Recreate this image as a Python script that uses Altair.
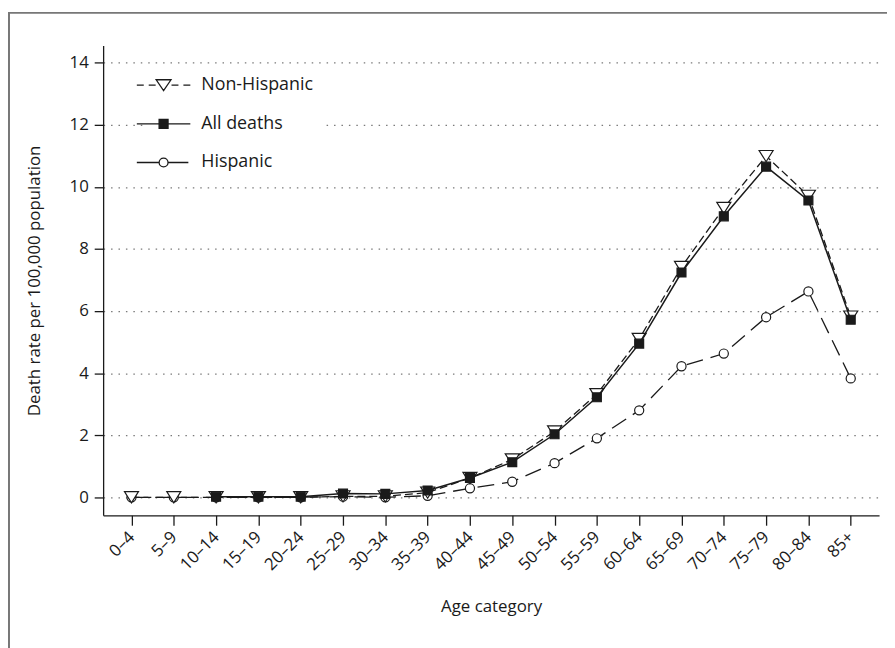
import altair as alt
import pandas as pd

ages = ["0–4", "5–9", "10–14", "15–19", "20–24", "25–29", "30–34", "35–39", "40–44",
        "45–49", "50–54", "55–59", "60–64", "65–69", "70–74", "75–79", "80–84", "85+"]
non_hispanic = [0.0, 0.0, 0.0, 0.0, 0.0, 0.03, 0.03, 0.15, 0.62, 1.22, 2.12, 3.32,
                5.10, 7.42, 9.32, 10.99, 9.71, 5.82]
all_deaths = [None, None, 0.02, 0.02, 0.02, 0.12, 0.11, 0.22, 0.62, 1.13, 2.03, 3.22,
              4.95, 7.24, 9.05, 10.65, 9.56, 5.72]
hispanic = [0.0, 0.0, 0.0, 0.0, 0.0, 0.02, 0.0, 0.05, 0.29, 0.50, 1.10, 1.90,
            2.80, 4.22, 4.63, 5.80, 6.63, 3.83]
series_names = ["Non-Hispanic", "All deaths", "Hispanic"]
y_ticks = [0, 2, 4, 6, 8, 10, 12, 14]

rows = []
for name, vals in zip(series_names, [non_hispanic, all_deaths, hispanic]):
    for a, v in zip(ages, vals):
        if v is not None:
            rows.append({"age": a, "series": name, "rate": v})
df = pd.DataFrame(rows)

FONT = "Open Sans"
INK = "#1a1a1a"

x_enc = alt.X(
    "age:N", sort=ages,
    scale=alt.Scale(type="point", padding=0.67),
    axis=alt.Axis(title="Age category", labelAngle=315, labelAlign="right",
                  labelBaseline="middle", grid=False, tickSize=10, labelPadding=9,
                  titlePadding=26),
)
y_enc = alt.Y(
    "rate:Q",
    scale=alt.Scale(domain=[-0.58, 14.55], nice=False, zero=False),
    axis=alt.Axis(values=y_ticks, title="Death rate per 100,000 population", grid=True,
                  tickSize=9, labelPadding=6, titlePadding=26,
                  gridDash=[1.5, 6], gridColor="#7a7a7a", gridWidth=1.3),
)

base = alt.Chart(df)


def series_line(name, width, dash=None):
    kw = dict(color=INK, strokeWidth=width)
    if dash:
        kw["strokeDash"] = dash
    return base.transform_filter(alt.datum.series == name).mark_line(**kw).encode(x=x_enc, y=y_enc)


def series_points(name, shape, size, fill):
    return base.transform_filter(alt.datum.series == name).mark_point(
        shape=shape, size=size, filled=True, fill=fill, stroke=INK, strokeWidth=1.2, opacity=1
    ).encode(x=x_enc, y=y_enc)


tri = "M-1,-0.8L1,-0.8L0,0.8Z"

# legend symbols: line segments plus marker, in units of sqrt(size)/2
path_nh = ("M-5.4,0H-4.0M-3.0,0H-1.6M-1.5,-1.1L1.5,-1.1L0,1.1Z"
           "M1.6,0H3.0M4.0,0H5.4")
path_all = "M-5.4,0H5.4M-0.9,-0.9H0.9V0.9H-0.9Z"
path_h = ("M-5.4,0H-0.9M0.9,0H5.0"
          "M0.9,0A0.9,0.9 0 1,1 -0.9,0A0.9,0.9 0 1,1 0.9,0Z")

leg = alt.Legend(title=None, orient="none", legendX=44, legendY=23, symbolSize=100,
                 symbolStrokeWidth=1.3, labelFont=FONT, labelFontSize=18, labelColor=INK,
                 labelOffset=29, rowPadding=21, padding=8, fillColor="white")

legend_layer = base.mark_point(filled=True, clip=True, yOffset=-3000, opacity=1,
                               strokeWidth=1.3, size=100).encode(
    x=x_enc, y=y_enc,
    shape=alt.Shape("series:N", scale=alt.Scale(domain=series_names,
                                                range=[path_nh, path_all, path_h]), legend=leg),
    fill=alt.Fill("series:N", scale=alt.Scale(domain=series_names,
                                              range=["white", INK, "white"]), legend=leg),
    stroke=alt.Stroke("series:N", scale=alt.Scale(domain=series_names,
                                                  range=[INK, INK, INK]), legend=leg),
)

frame = alt.Chart(pd.DataFrame({"k": [0]})).mark_rect(
    filled=False, stroke="#777777", strokeWidth=2
).encode(x=alt.value(-95), x2=alt.value(900), y=alt.value(-33), y2=alt.value(700))

chart = alt.layer(
    frame,
    series_line("Hispanic", 1.3, [17, 8]),
    series_points("Hispanic", "circle", 85, "white"),
    series_line("Non-Hispanic", 1.3, [8, 4]),
    series_points("Non-Hispanic", tri, 200, "white"),
    series_line("All deaths", 1.5),
    series_points("All deaths", "square", 81, INK),
    legend_layer,
).properties(
    width=783, height=474,
    autosize=alt.AutoSizeParams(type="none"),
    padding={"left": 96, "top": 35, "right": 8, "bottom": 131},
    background="white",
).configure_axis(
    domainColor=INK, domainWidth=1.3, tickColor=INK, tickWidth=1.3,
    labelFont=FONT, labelFontSize=17, labelColor=INK,
    titleFont=FONT, titleFontSize=17, titleFontWeight="normal", titleColor=INK,
).configure_view(stroke="transparent")

chart.save("out.html", embed_options={"renderer": "svg", "actions": False})
